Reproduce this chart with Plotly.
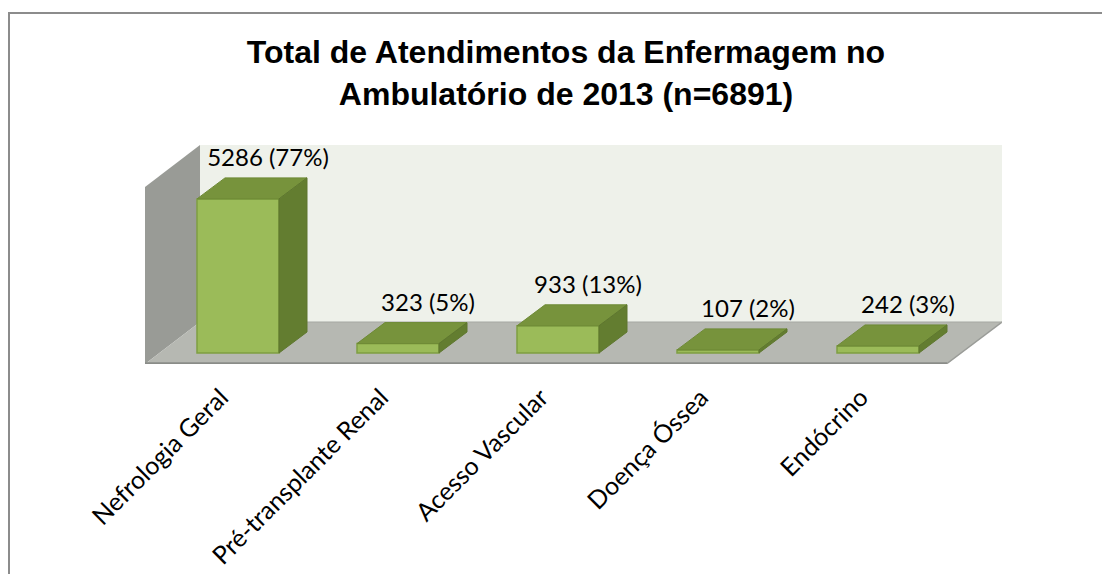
import plotly.graph_objects as go

# ---- data ----
categories = ["Nefrologia Geral", "Pré-transplante Renal", "Acesso Vascular", "Doença Óssea", "Endócrino"]
values = [5286, 323, 933, 107, 242]
percents = ["77%", "5%", "13%", "2%", "3%"]
title_lines = ["Total de Atendimentos da Enfermagem no", "Ambulatório de 2013 (n=6891)"]

# ---- layout geometry (reference pixels; page body adds an 8px margin) ----
OFF = 8
W, H = 1110 - 2 * OFF, 582 - 2 * OFF
PL, PR, PT, PB = 145, 1002, 145, 364          # plot area in reference px
PX_PER_CAT = 160.0
VAL_PER_PX = 34.3
CAT0_PX = 238
BASE_PX = 353

XMIN = -(CAT0_PX - PL) / PX_PER_CAT
XMAX = XMIN + (PR - PL) / PX_PER_CAT
YMIN = -(PB - BASE_PX) * VAL_PER_PX
YMAX = YMIN + (PB - PT) * VAL_PER_PX


def X(px):
    return XMIN + (px - PL) / PX_PER_CAT


def Y(py):
    return YMIN + (PB - py) * VAL_PER_PX


BW = 82 / PX_PER_CAT          # bar width in category units
DX = 28 / PX_PER_CAT          # depth offset x
DY = 21 * VAL_PER_PX          # depth offset y

FRONT = "#9BBB59"
FRONT_LINE = "#7F9F42"
TOP = "#77933C"
SIDE = "#637D30"
FLOOR = "#B6B8B2"
SIDEWALL = "#999B96"
BACKWALL = "#EEF1EA"
LABEL_FONT = "Lato"

idx = list(range(len(categories)))

fig = go.Figure()

# front faces
fig.add_trace(go.Bar(
    x=idx, y=values, width=BW,
    marker=dict(color=FRONT, line=dict(color=FRONT_LINE, width=1.5)),
    hoverinfo="skip", showlegend=False,
))

# top faces
tx, ty = [], []
for i, v in zip(idx, values):
    x0, x1 = i - BW / 2, i + BW / 2
    tx += [x0, x0 + DX, x1 + DX, x1, x0, None]
    ty += [v, v + DY, v + DY, v, v, None]
fig.add_trace(go.Scatter(x=tx, y=ty, mode="lines", fill="toself", fillcolor=TOP,
                         line=dict(color="#6E8A36", width=1), hoverinfo="skip", showlegend=False))

# side faces
sx, sy = [], []
for i, v in zip(idx, values):
    x1 = i + BW / 2
    sx += [x1, x1 + DX, x1 + DX, x1, x1, None]
    sy += [0, DY, v + DY, v, 0, None]
fig.add_trace(go.Scatter(x=sx, y=sy, mode="lines", fill="toself", fillcolor=SIDE,
                         line=dict(color="#5E772E", width=1), hoverinfo="skip", showlegend=False))

# value labels
fig.add_trace(go.Scatter(
    x=[i + DX + 2 / PX_PER_CAT for i in idx], y=[v + DY + 200 for v in values],
    mode="text", text=[f"{v} ({p})" for v, p in zip(values, percents)],
    textposition="top center",
    textfont=dict(family=LABEL_FONT, size=24, color="black"),
    hoverinfo="skip", showlegend=False,
))

shapes = [
    # back wall
    dict(type="rect", xref="x", yref="y", x0=X(200), x1=X(1002), y0=Y(322), y1=Y(145),
         fillcolor=BACKWALL, line=dict(width=0), layer="below"),
    # side wall
    dict(type="path", xref="x", yref="y",
         path=f"M {X(145)},{Y(187)} L {X(200)},{Y(145)} L {X(200)},{Y(322)} L {X(145)},{Y(364)} Z",
         fillcolor=SIDEWALL, line=dict(width=0), layer="below"),
    # floor
    dict(type="path", xref="x", yref="y",
         path=f"M {X(145)},{Y(364)} L {X(947)},{Y(364)} L {X(1002)},{Y(322)} L {X(200)},{Y(322)} Z",
         fillcolor=FLOOR, line=dict(width=0), layer="below"),
    # floor edges
    dict(type="line", xref="x", yref="y", x0=X(145), y0=Y(363.5), x1=X(947), y1=Y(363.5),
         line=dict(color="#8A8C88", width=2.5), layer="below"),
    dict(type="line", xref="x", yref="y", x0=X(947), y0=Y(363.5), x1=X(1002), y1=Y(322),
         line=dict(color="#9A9C98", width=1.5), layer="below"),
    dict(type="line", xref="x", yref="y", x0=X(200), y0=Y(322), x1=X(1002), y1=Y(322),
         line=dict(color="#A5A7A2", width=1), layer="below"),
    # chart border
    dict(type="rect", xref="paper", yref="paper",
         x0=(9 - PL) / (PR - PL), x1=(1130 - PL) / (PR - PL),
         y0=(PB - 600) / (PB - PT), y1=(PB - 13) / (PB - PT),
         line=dict(color="#8C8C8C", width=2), fillcolor="rgba(0,0,0,0)", layer="above"),
]

fig.update_layout(
    width=W, height=H, autosize=False,
    margin=dict(l=PL - OFF, r=W - (PR - OFF), t=PT - OFF, b=H - (PB - OFF), pad=0),
    paper_bgcolor="white", plot_bgcolor="white",
    showlegend=False, shapes=shapes,
    title=dict(text="<b>" + "<br>".join(title_lines) + "</b>",
               x=(566 - OFF) / W, xanchor="center", xref="container",
               y=1 - (63 - OFF) / H, yanchor="middle", yref="container",
               font=dict(family="Liberation Sans", size=32, color="black")),
    xaxis=dict(range=[XMIN, XMAX], tickvals=idx, ticktext=categories, tickangle=-45,
               showgrid=False, zeroline=False, showline=False, ticks="",
               ticklabelshift=-17, ticklabelstandoff=13,
               tickfont=dict(family=LABEL_FONT, size=25, color="black"), automargin=False,
               fixedrange=True),
    yaxis=dict(range=[YMIN, YMAX], showgrid=False, zeroline=False, showline=False,
               showticklabels=False, ticks="", automargin=False, fixedrange=True),
)

fig.write_html("out.html")
